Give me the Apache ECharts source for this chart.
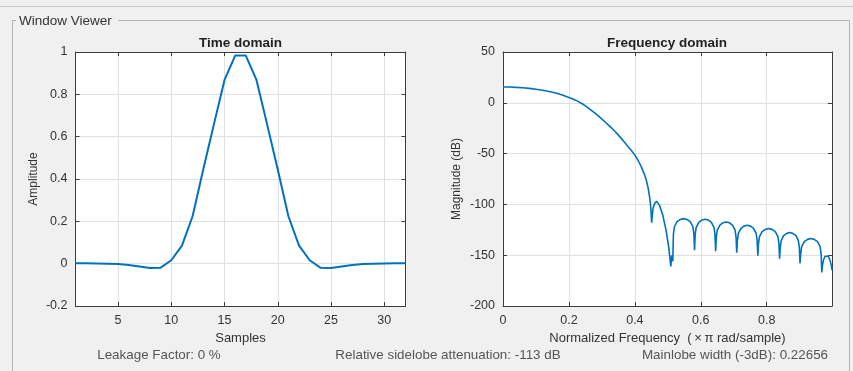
<!DOCTYPE html>
<html><head><meta charset="utf-8">
<script src="https://cdn.jsdelivr.net/npm/echarts@6/dist/echarts.min.js"></script>
<style>html,body{margin:0;padding:0;background:#f0f0f0;}#c{width:853px;height:371px;}</style>
</head><body><div id="c"></div>
<script>
// ---- data ----
const sampleIdx = [1,2,3,4,5,6,7,8,9,10,11,12,13,14,15,16,17,18,19,20,21,22,23,24,25,26,27,28,29,30,31,32];
const amplitude = [0.002,0.002,0.001,0.0,-0.002,-0.006,-0.013,-0.021,-0.019,0.016,0.085,0.224,0.445,0.658,0.868,0.983,
                   0.983,0.868,0.658,0.445,0.224,0.085,0.016,-0.019,-0.021,-0.013,-0.006,-0.002,0.0,0.001,0.002,0.002];
const timeXTicks = [5,10,15,20,25,30];
const freqX = [0,0.02,0.04,0.06,0.08,0.10,0.12,0.14,0.16,0.18,0.20,0.21,0.22,0.23,0.24,0.25,0.26,0.27,0.28,0.29,0.30,
  0.31,0.32,0.33,0.34,0.35,0.36,0.37,0.38,0.39,0.40,0.41,0.42,0.43,0.435,0.44,0.444,0.447,0.449,
  0.451,0.455,0.46,0.466,0.475,0.485,0.495,0.503,0.509,0.512,0.515,
  0.517,0.520,0.528,0.538,0.548,0.558,0.568,0.576,0.579,0.581,
  0.583,0.586,0.594,0.603,0.613,0.623,0.632,0.640,0.643,0.645,
  0.647,0.650,0.658,0.667,0.677,0.687,0.696,0.704,0.707,0.709,
  0.711,0.714,0.722,0.731,0.741,0.751,0.760,0.768,0.771,0.773,
  0.775,0.778,0.786,0.796,0.806,0.816,0.826,0.834,0.837,0.839,
  0.841,0.844,0.851,0.861,0.870,0.879,0.889,0.896,0.899,0.901,
  0.903,0.906,0.914,0.924,0.934,0.944,0.954,0.962,0.965,0.967,
  0.969,0.972,0.977,0.982,0.987,0.992,0.996,0.998];
const freqDb = [15.6,15.5,15.2,14.8,14.2,13.4,12.4,11.1,9.6,7.6,5.3,4.0,2.6,0.9,-0.9,-3.0,-5.4,-7.9,-10.5,-13.2,-16.0,
  -18.9,-21.9,-25.0,-28.3,-31.8,-35.5,-39.4,-43.4,-47.3,-51.5,-56.8,-63.3,-71.3,-76.5,-83.5,-91,-99,-106,
  -118,-104,-99,-97,-101,-111,-126,-143,-161,-150,-156,
  -129,-122,-117,-114.8,-114,-114.8,-117,-122,-129,-145,
  -129.6,-122.6,-117.6,-115.4,-114.6,-115.4,-117.6,-122.6,-129.6,-146,
  -132.3,-125.3,-120.3,-118.1,-117.3,-118.1,-120.3,-125.3,-132.3,-147.5,
  -135.6,-128.6,-123.6,-121.4,-120.6,-121.4,-123.6,-128.6,-135.6,-150.5,
  -138.8,-131.8,-126.8,-124.6,-123.8,-124.6,-126.8,-131.8,-138.8,-153.5,
  -142.7,-135.7,-130.7,-128.5,-127.7,-128.5,-130.7,-135.7,-142.7,-158,
  -148.6,-141.6,-136.6,-134.4,-133.6,-134.4,-136.6,-141.6,-148.6,-167,
  -160,-155,-151,-150,-151,-155,-160,-164.7];
const freqXTicks = [0,0.2,0.4,0.6,0.8];

const FONT = '"Liberation Sans", Arial, sans-serif';
const AX = '#3c3c3c', GRIDC = '#e0e0e0', LBL = '#333333', BLUE = '#0072BD';

const chart = echarts.init(document.getElementById('c'));
function xAx(grid, min, max, ticks, pos, show, name){
  return {type:'value', gridIndex:grid, min:min, max:max, position:pos,
    name: name||'', nameLocation:'middle', nameGap:22,
    nameTextStyle:{color:LBL, fontSize:13, fontFamily:FONT},
    axisLine:{show:true, onZero:false, lineStyle:{color:AX, width:1}},
    axisTick:{show:true, inside:true, length:4, customValues:ticks, lineStyle:{color:AX}},
    axisLabel:{show:show, customValues:ticks, color:LBL, fontSize:12.5, fontFamily:FONT, margin:8},
    splitLine:{show:show, lineStyle:{color:GRIDC, width:1}}};
}
function yAx(grid, min, max, interval, pos, show, name, gap){
  return {type:'value', gridIndex:grid, min:min, max:max, interval:interval, position:pos,
    name: name||'', nameLocation:'middle', nameGap:gap||30,
    nameTextStyle:{color:LBL, fontSize:12, fontFamily:FONT},
    axisLine:{show:true, onZero:false, lineStyle:{color:AX, width:1}},
    axisTick:{show:true, inside:true, length:4, lineStyle:{color:AX}},
    axisLabel:{show:show, color:LBL, fontSize:12.5, fontFamily:FONT, margin:8},
    splitLine:{show:show, lineStyle:{color:GRIDC, width:1}}};
}

const option = {
  animation:false,
  backgroundColor:'#f0f0f0',
  title:[
    {text:'Time domain', left:240.6, top:36, padding:0, textAlign:'center', textStyle:{fontSize:13.5, fontWeight:'bold', color:'#222', fontFamily:FONT}},
    {text:'Frequency domain', left:667, top:36, padding:0, textAlign:'center', textStyle:{fontSize:13.5, fontWeight:'bold', color:'#222', fontFamily:FONT}}
  ],
  grid:[
    {left:75.5, top:52, width:330, height:254, show:true, backgroundColor:'#ffffff', borderWidth:0},
    {left:503, top:52, width:329, height:254, show:true, backgroundColor:'#ffffff', borderWidth:0}
  ],
  xAxis:[
    xAx(0, 1, 32, timeXTicks, 'bottom', true, 'Samples'),
    xAx(0, 1, 32, timeXTicks, 'top', false),
    xAx(1, 0, 0.998, freqXTicks, 'bottom', true, 'Normalized Frequency  (\u2009\u00d7\u2009\u03c0 rad/sample)'),
    xAx(1, 0, 0.998, freqXTicks, 'top', false)
  ],
  yAxis:[
    yAx(0, -0.2, 1, 0.2, 'left', true, 'Amplitude', 36),
    yAx(0, -0.2, 1, 0.2, 'right', false),
    yAx(1, -200, 50, 50, 'left', true, 'Magnitude (dB)', 40),
    yAx(1, -200, 50, 50, 'right', false)
  ],
  series:[
    {type:'line', xAxisIndex:0, yAxisIndex:0, showSymbol:false, symbol:'none',
     lineStyle:{color:BLUE, width:2}, data: sampleIdx.map((s,i)=>[s, amplitude[i]])},
    {type:'line', xAxisIndex:2, yAxisIndex:2, showSymbol:false, symbol:'none',
     lineStyle:{color:BLUE, width:1.6}, data: freqX.map((f,i)=>[f, freqDb[i]])}
  ],
  graphic:[
    {type:'line', shape:{x1:0,y1:6.5,x2:853,y2:6.5}, style:{stroke:'#c8c8c8', lineWidth:1}},
    {type:'polyline', shape:{points:[[16,20.5],[12.5,20.5],[12.5,371]]}, style:{stroke:'#b4b4b4', lineWidth:1, fill:null}},
    {type:'polyline', shape:{points:[[118,20.5],[849.5,20.5],[849.5,371]]}, style:{stroke:'#b4b4b4', lineWidth:1, fill:null}},
    {type:'text', left:19, top:14, style:{text:'Window Viewer', fontSize:13.5, fill:'#333', fontFamily:FONT}},
    {type:'text', x:159, y:355, style:{text:'Leakage Factor: 0 %', fontSize:13.4, fill:'#555', fontFamily:FONT, align:'center', verticalAlign:'middle'}},
    {type:'text', x:448, y:355, style:{text:'Relative sidelobe attenuation: -113 dB', fontSize:13.4, fill:'#555', fontFamily:FONT, align:'center', verticalAlign:'middle'}},
    {type:'text', x:735, y:355, style:{text:'Mainlobe width (-3dB): 0.22656', fontSize:13.4, fill:'#555', fontFamily:FONT, align:'center', verticalAlign:'middle'}}
  ]
};
chart.setOption(option);
</script>
</body></html>
